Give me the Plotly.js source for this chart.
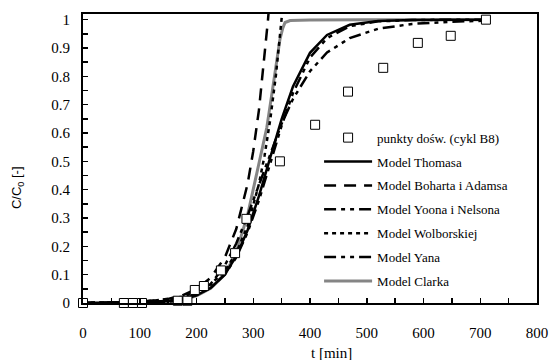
<!DOCTYPE html>
<html>
<head>
<meta charset="utf-8">
<script src="https://cdn.plot.ly/plotly-3.0.1.min.js"></script>
<style>html,body{margin:0;padding:0;background:#fff;}#chart{width:549px;height:360px;}</style>
</head>
<body>
<div id="chart"></div>
<script>
// Experimental points (cykl B8)
var tExp = [0, 72, 88, 104, 167, 184, 197, 213, 243, 268, 288, 347, 409, 467, 529, 590, 648, 710];
var yExp = [0, 0, 0, 0, 0.008, 0.008, 0.046, 0.06, 0.115, 0.176, 0.297, 0.5, 0.629, 0.746, 0.83, 0.918, 0.943, 1.0];

// Common model time grid
var tModel = [0, 50, 100, 150, 175, 200, 225, 250, 270, 290, 310, 330, 350, 370, 400, 430, 470, 520, 580, 650, 710];
var yThomas = [0.0001, 0.0004, 0.0017, 0.0068, 0.0136, 0.027, 0.053, 0.101, 0.165, 0.257, 0.377, 0.514, 0.649, 0.764, 0.883, 0.946, 0.982, 0.995, 0.9991, 0.9999, 1.0];
var yYoon = [0.0001, 0.0005, 0.002, 0.0075, 0.0146, 0.028, 0.054, 0.101, 0.161, 0.249, 0.362, 0.493, 0.626, 0.741, 0.866, 0.935, 0.977, 0.994, 0.9988, 0.9998, 1.0];
var yYan = [0, 0, 0.0002, 0.0038, 0.0116, 0.0298, 0.0668, 0.133, 0.21, 0.308, 0.418, 0.53, 0.633, 0.72, 0.818, 0.884, 0.935, 0.968, 0.985, 0.993, 0.9965];

// Bohart-Adams
var tBohart = [0, 50, 100, 150, 175, 200, 225, 250, 270, 290, 300, 310, 320, 326, 328];
var yBohart = [0.0004, 0.0013, 0.0044, 0.0146, 0.0267, 0.049, 0.089, 0.161, 0.261, 0.42, 0.536, 0.681, 0.866, 1.0, 1.05];

// Wolborska
var tWolb = [0, 50, 100, 150, 175, 200, 225, 250, 270, 290, 310, 320, 330, 340, 350, 352];
var yWolb = [0.0005, 0.0015, 0.0044, 0.013, 0.0224, 0.0386, 0.066, 0.114, 0.176, 0.272, 0.42, 0.521, 0.648, 0.805, 1.0, 1.044];

// Clark
var tClark = [0, 100, 150, 175, 200, 225, 250, 270, 290, 300, 315, 324, 333, 341, 347, 352, 356, 365, 400, 500, 600, 710];
var yClark = [0, 0.0005, 0.004, 0.011, 0.025, 0.052, 0.10, 0.18, 0.31, 0.40, 0.53, 0.62, 0.74, 0.86, 0.93, 0.97, 0.99, 0.997, 0.999, 1.0, 1.0, 1.0];

var names = ['punkty dośw. (cykl B8)', 'Model Thomasa', 'Model Boharta i Adamsa', 'Model Yoona i Nelsona', 'Model Wolborskiej', 'Model Yana', 'Model Clarka'];

function line(x, y, name, rank, color, width, dash) {
  return {x: x, y: y, type: 'scatter', mode: 'lines', name: name, legendrank: rank, legendgroup: 'g' + rank,
    line: {color: color, width: width, dash: dash}};
}

var data = [
  line(tClark, yClark, names[6], 7, '#858585', 3, 'solid'),
  line(tModel, yYan, names[5], 6, '#000', 2.5, '12px,5px,4px,5px,4px,5px'),
  line(tWolb, yWolb, names[4], 5, '#000', 2.5, '4px,4px'),
  line(tModel, yYoon, names[3], 4, '#000', 2.5, '12px,5px,4px,5px,4px,5px'),
  line(tBohart, yBohart, names[2], 3, '#000', 2.5, '12px,8px'),
  line(tModel, yThomas, names[1], 2, '#000', 2.5, 'solid'),
  {x: tExp, y: yExp, type: 'scatter', mode: 'markers', name: names[0], legendrank: 1, legendgroup: 'g1',
    marker: {symbol: 'square', size: 9, color: '#fff', line: {color: '#000', width: 1}}, cliponaxis: false}
];

var layout = {
  width: 549, height: 360,
  margin: {l: 83, r: 12, t: 14, b: 57},
  paper_bgcolor: '#fff', plot_bgcolor: '#fff',
  font: {family: 'Liberation Serif', size: 15, color: '#000'},
  showlegend: true,
  legend: {x: 0.52, xanchor: 'left', y: 0.624, yanchor: 'top', bgcolor: 'rgba(0,0,0,0)',
    font: {family: 'Liberation Serif', size: 13, color: '#000'}, traceorder: 'grouped', tracegroupgap: 4, itemwidth: 48},
  xaxis: {range: [0, 800], dtick: 100, tick0: 0, ticks: 'inside', ticklen: 5, tickwidth: 1.5, tickcolor: '#000',
    showline: true, linewidth: 2, linecolor: '#000', mirror: true, showgrid: false, zeroline: false,
    ticklabelstandoff: 15,
    minor: {dtick: 50, ticks: 'inside', ticklen: 5, tickwidth: 1.5, tickcolor: '#000', showgrid: false}},
  yaxis: {range: [0, 1.02], dtick: 0.1, tick0: 0, ticks: 'inside', ticklen: 5, tickwidth: 1.5, tickcolor: '#000',
    showline: true, linewidth: 2, linecolor: '#000', mirror: true, showgrid: false, zeroline: false,
    ticklabelstandoff: 8,
    minor: {dtick: 0.05, ticks: 'inside', ticklen: 5, tickwidth: 1.5, tickcolor: '#000', showgrid: false}},
  annotations: [
    {text: 'C/C<sub>0</sub> [-]', xref: 'paper', yref: 'paper', x: -0.143, y: 0.398, xanchor: 'center', yanchor: 'middle',
      textangle: -90, showarrow: false, font: {family: 'Liberation Sans', size: 13, color: '#000'}},
    {text: 't [min]', xref: 'paper', yref: 'paper', x: 0.548, y: -0.173, xanchor: 'center', yanchor: 'middle',
      showarrow: false, font: {family: 'Liberation Serif', size: 15, color: '#000'}}
  ]
};

Plotly.newPlot('chart', data, layout, {displayModeBar: false, staticPlot: true});
</script>
</body>
</html>
